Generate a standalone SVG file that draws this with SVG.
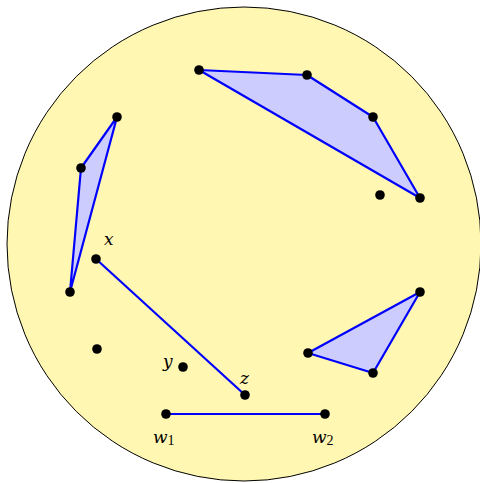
<svg xmlns="http://www.w3.org/2000/svg" width="480" height="483" viewBox="0 0 480 483">
<style>
.poly{fill:#ccccff;stroke:#0000ff;stroke-width:2.2;stroke-linejoin:round}
.ln{stroke:#0000ff;stroke-width:2.2;fill:none}
.pt{fill:#000}
.lb{font-family:"DejaVu Serif","Liberation Serif",serif;font-style:italic;font-size:17px;fill:#000}
.sub{font-family:"Liberation Serif",serif;font-style:normal;font-size:14px;fill:#000}
</style>
<rect width="480" height="483" fill="#fff"/>
<g id="disk"><circle cx="244" cy="244" r="237" fill="#fff7b2" stroke="#000" stroke-width="1"/></g>
<g id="connectors">
<polygon class="poly" points="199,70 307,75 373,117 420,198"/>
<polygon class="poly" points="117,117 81,168 70,292"/>
<polygon class="poly" points="420,292 373,373 308,353"/>
<line class="ln" x1="96" y1="259" x2="245" y2="395"/>
<line class="ln" x1="166" y1="414" x2="325" y2="414"/>
</g>
<g id="nodes">
<g id="n1"><circle class="pt" cx="199" cy="70" r="4.8"/></g>
<g id="n2"><circle class="pt" cx="307" cy="75" r="4.8"/></g>
<g id="n3"><circle class="pt" cx="373" cy="117" r="4.8"/></g>
<g id="n4"><circle class="pt" cx="420" cy="198" r="4.8"/></g>
<g id="n5"><circle class="pt" cx="380" cy="195" r="4.8"/></g>
<g id="n6"><circle class="pt" cx="117" cy="117" r="4.8"/></g>
<g id="n7"><circle class="pt" cx="81" cy="168" r="4.8"/></g>
<g id="n8"><circle class="pt" cx="70" cy="292" r="4.8"/></g>
<g id="n9"><circle class="pt" cx="420" cy="292" r="4.8"/></g>
<g id="n10"><circle class="pt" cx="373" cy="373" r="4.8"/></g>
<g id="n11"><circle class="pt" cx="308" cy="353" r="4.8"/></g>
<g id="n12"><circle class="pt" cx="97" cy="349" r="4.8"/></g>
<g id="nx"><circle class="pt" cx="96" cy="259" r="4.8"/><text class="lb" x="104" y="245">x</text></g>
<g id="ny"><circle class="pt" cx="183" cy="367" r="4.8"/><text class="lb" x="163" y="367">y</text></g>
<g id="nz"><circle class="pt" cx="245" cy="395" r="4.8"/><text class="lb" x="240" y="384">z</text></g>
<g id="nw1"><circle class="pt" cx="166" cy="414" r="4.8"/><text class="lb" x="153" y="443">w<tspan class="sub" dy="2">1</tspan></text></g>
<g id="nw2"><circle class="pt" cx="325" cy="414" r="4.8"/><text class="lb" x="312" y="443">w<tspan class="sub" dy="2">2</tspan></text></g>
</g>
</svg>
